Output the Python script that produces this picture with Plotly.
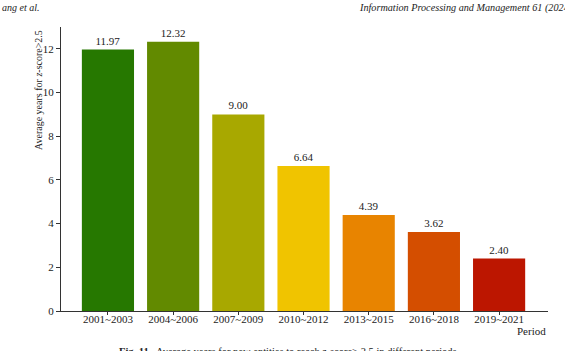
import plotly.graph_objects as go

periods = ["2001~2003", "2004~2006", "2007~2009", "2010~2012", "2013~2015", "2016~2018", "2019~2021"]
avg_years = [11.97, 12.32, 9.00, 6.64, 4.39, 3.62, 2.40]
bar_colors = ["#267800", "#628a00", "#a8a800", "#f0c400", "#e88400", "#d44e00", "#bc1600"]
y_ticks = [0, 2, 4, 6, 8, 10, 12]

W, H = 565, 351
L, R, T, B = 61, 17, 27, 40
pw, ph = W - L - R, H - T - B

def px(x):
    return (x - L) / pw

def py(y):
    return (H - B - y) / ph

FONT = "Liberation Serif, Times New Roman, serif"

fig = go.Figure()
fig.add_trace(go.Bar(
    x=list(range(len(periods))), y=avg_years,
    marker=dict(color=bar_colors, line=dict(width=0)),
    width=0.8,
    text=[f"{v:.2f}" for v in avg_years],
    textposition="outside", cliponaxis=False,
    textfont=dict(family=FONT, size=11, color="#222"),
    hoverinfo="skip",
))

fig.update_layout(
    width=W, height=H,
    margin=dict(l=L, r=R, t=T, b=B),
    paper_bgcolor="white", plot_bgcolor="white",
    showlegend=False,
    font=dict(family=FONT, size=11, color="#222"),
    xaxis=dict(
        range=[-0.72, 6.75],
        tickvals=list(range(len(periods))), ticktext=periods,
        showline=True, linecolor="#333", linewidth=1,
        ticks="outside", ticklen=3, tickcolor="#333",
        ticklabelstandoff=-5,
        showgrid=False, zeroline=False,
        tickfont=dict(family=FONT, size=11, color="#222"),
    ),
    yaxis=dict(
        range=[0, 13],
        tickvals=y_ticks,
        showline=True, linecolor="#333", linewidth=1,
        ticks="outside", ticklen=4, tickcolor="#333",
        showgrid=False, zeroline=False,
        tickfont=dict(family=FONT, size=11, color="#222"),
    ),
)

annotations = [
    dict(text="Average years for <i>z</i>-score>2.5", textangle=-90,
         x=px(38), y=py(28), xanchor="center", yanchor="top",
         font=dict(family=FONT, size=10, color="#222")),
    dict(text="Period", x=px(548), y=py(331), xanchor="right", yanchor="middle",
         font=dict(family=FONT, size=11, color="#222")),
    dict(text="<i>ang et al.</i>", x=px(0), y=py(8), xanchor="left", yanchor="middle",
         font=dict(family=FONT, size=10, color="#222")),
    dict(text="<i>Information Processing and Management 61 (2024)</i>", x=px(357), y=py(8),
         xanchor="left", yanchor="middle",
         font=dict(family=FONT, size=10.2, color="#222")),
    dict(text="<b>Fig. 11.</b>  Average years for new entities to reach <i>z</i>-score> 2.5 in different periods.",
         x=px(117), y=py(351), xanchor="left", yanchor="middle",
         font=dict(family=FONT, size=10.5, color="#222")),
]
for a in annotations:
    a.update(xref="paper", yref="paper", showarrow=False)
fig.update_layout(annotations=annotations)

fig.write_html("out.html")
